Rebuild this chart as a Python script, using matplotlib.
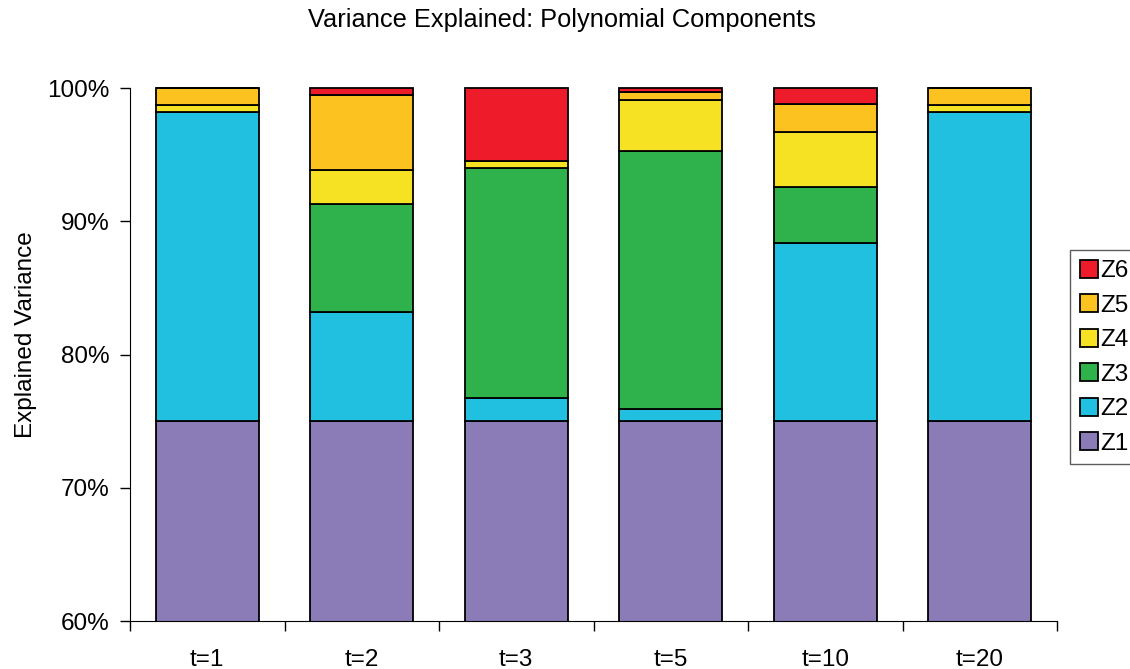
import numpy as np
import matplotlib.pyplot as plt
from matplotlib.ticker import FuncFormatter, FixedLocator

plt.rcParams['font.family'] = ['Liberation Sans', 'DejaVu Sans']

# share of variance (%) for each polynomial component at each time point
times = ['t=1', 't=2', 't=3', 't=5', 't=10', 't=20']
z1 = [75.0, 75.0, 75.0, 75.0, 75.0, 75.0]
z2 = [23.2, 8.2, 1.7, 0.9, 13.4, 23.2]
z3 = [0.0, 8.1, 17.3, 19.4, 4.15, 0.0]
z4 = [0.5, 2.55, 0.55, 3.8, 4.15, 0.5]
z5 = [1.3, 5.6, 0.0, 0.6, 2.1, 1.3]
z6 = [0.0, 0.55, 5.45, 0.3, 1.2, 0.0]

series = [('Z1', z1, '#8B7BB6'), ('Z2', z2, '#22C0E0'), ('Z3', z3, '#2FB24C'),
          ('Z4', z4, '#F6E223'), ('Z5', z5, '#FCC220'), ('Z6', z6, '#EE1C2A')]

fs = 17.5
fig = plt.figure(figsize=(11.3, 6.69), dpi=100)
ax = fig.add_axes([130/1130, 48/669, 927/1130, 573/669])

x = np.arange(len(times))
bottom = np.zeros(len(times))
handles = []
for name, vals, col in series:
    vals = np.array(vals)
    b = ax.bar(x, vals, bottom=bottom, width=0.667, color=col,
               edgecolor='black', linewidth=1.3, label=name)
    handles.append(b)
    bottom += vals

ax.set_xlim(-0.5, len(times) - 0.5)
ax.set_ylim(60, 100 + 40 * 40 / 533)
ax.set_yticks([60, 70, 80, 90, 100])
ax.yaxis.set_major_formatter(FuncFormatter(lambda v, p: f'{v:.0f}%'))
ax.set_xticks(x)
ax.set_xticklabels(times)
ax.xaxis.set_minor_locator(FixedLocator(np.arange(-0.5, len(times), 1.0)))
ax.tick_params(axis='x', which='major', length=0, pad=20, labelsize=fs)
ax.tick_params(axis='x', which='minor', length=7, direction='out', width=1)
ax.tick_params(axis='y', length=7, width=1, labelsize=fs, pad=8)
ax.spines['top'].set_visible(False)
ax.spines['right'].set_visible(False)
ax.spines['left'].set_bounds(60, 100)

ax.set_ylabel('Explained Variance', fontsize=fs, labelpad=7)
fig.text(562/1130, 1 - 20/669, 'Variance Explained: Polynomial Components',
         ha='center', va='center', fontsize=18.3)

leg = fig.legend(handles[::-1], [s[0] for s in series][::-1],
                 loc='upper left', bbox_to_anchor=(1070/1130, 1 - 250/669),
                 fontsize=fs, frameon=True, fancybox=False, edgecolor='#333333',
                 handlelength=0.75, handleheight=0.75, handletextpad=0.1,
                 labelspacing=0.5, borderpad=0.4, borderaxespad=0)
leg.get_frame().set_linewidth(1)

fig.savefig('out.png', dpi=100)
